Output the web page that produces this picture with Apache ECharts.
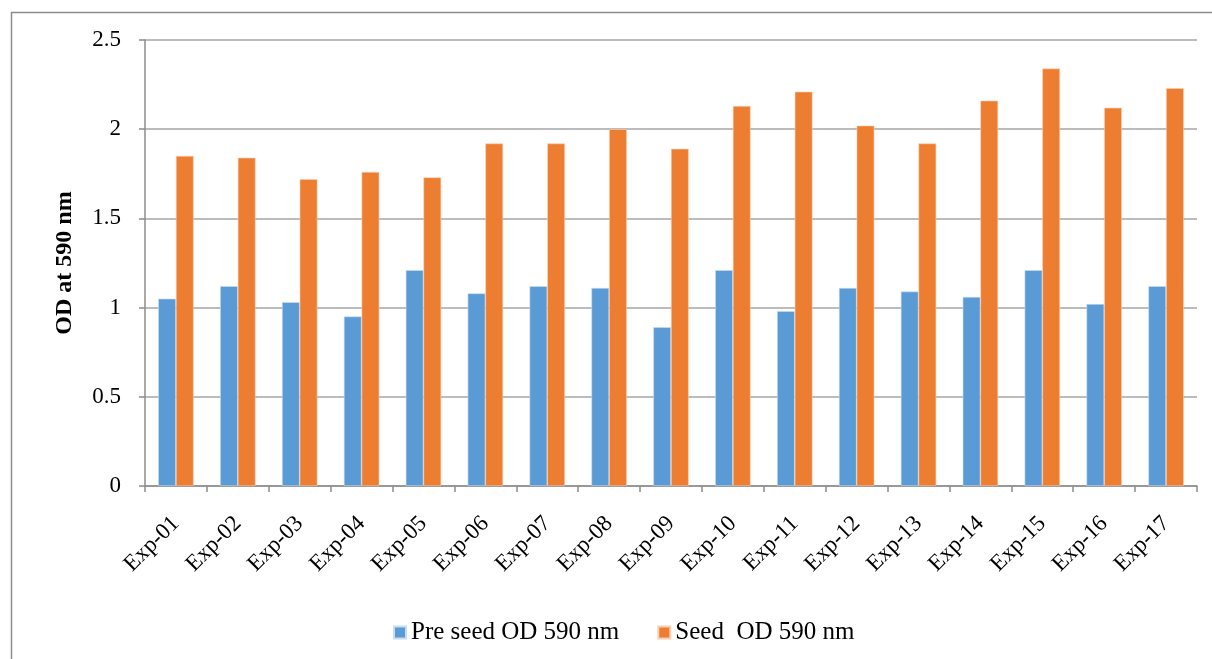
<!DOCTYPE html>
<html>
<head>
<meta charset="utf-8">
<script src="https://cdn.jsdelivr.net/npm/echarts@6/dist/echarts.min.js"></script>
<style>
  html, body { margin: 0; padding: 0; background: #ffffff; }
  #chart { width: 1212px; height: 659px; }
</style>
</head>
<body>
<div id="chart"></div>
<script>
// Experiment labels along the category axis
const categories = ['Exp-01','Exp-02','Exp-03','Exp-04','Exp-05','Exp-06','Exp-07','Exp-08','Exp-09',
                    'Exp-10','Exp-11','Exp-12','Exp-13','Exp-14','Exp-15','Exp-16','Exp-17'];
// Optical density readings at 590 nm
const preSeedOD = [1.05, 1.12, 1.03, 0.95, 1.21, 1.08, 1.12, 1.11, 0.89, 1.21, 0.98, 1.11, 1.09, 1.06, 1.21, 1.02, 1.12];
const seedOD    = [1.85, 1.84, 1.72, 1.76, 1.73, 1.92, 1.92, 2.00, 1.89, 2.13, 2.21, 2.02, 1.92, 2.16, 2.34, 2.12, 2.23];
const seriesNames = ['Pre seed OD 590 nm', 'Seed  OD 590 nm'];

const serif = '"Liberation Serif", "Times New Roman", serif';
const chart = echarts.init(document.getElementById('chart'));

chart.setOption({
  animation: false,
  backgroundColor: '#ffffff',
  textStyle: { fontFamily: serif, color: '#000' },
  graphic: [{
    type: 'rect',
    shape: { x: 11.5, y: 12.5, width: 1240, height: 700 },
    style: { fill: 'none', stroke: '#8c8c8c', lineWidth: 1.5 },
    silent: true
  }],
  grid: { left: 145, right: 15, top: 40, bottom: 173, containLabel: false },
  legend: {
    bottom: 9,
    left: 388,
    itemWidth: 12,
    itemHeight: 12,
    itemGap: 38,
    icon: 'rect',
    textStyle: { fontFamily: serif, fontSize: 25, color: '#000', padding: [3, 0, 0, 0] },
    data: seriesNames
  },
  xAxis: {
    type: 'category',
    data: categories,
    axisLine: { lineStyle: { color: '#8c8c8c', width: 1.5 } },
    axisTick: { show: true, length: 6, lineStyle: { color: '#8c8c8c', width: 1.5 } },
    axisLabel: { rotate: 45, fontFamily: serif, fontSize: 23, color: '#000', margin: 34, interval: 0 }
  },
  yAxis: {
    type: 'value',
    min: 0,
    max: 2.5,
    interval: 0.5,
    name: 'OD at 590 nm',
    nameLocation: 'middle',
    nameGap: 68,
    nameTextStyle: { fontFamily: serif, fontSize: 24, fontWeight: 'bold', color: '#000' },
    axisLine: { show: true, lineStyle: { color: '#8c8c8c', width: 1.5 } },
    axisTick: { show: true, length: 6, lineStyle: { color: '#8c8c8c', width: 1.5 } },
    axisLabel: { fontFamily: serif, fontSize: 23, color: '#000', margin: 24 },
    splitLine: { lineStyle: { color: '#a6a6a6', width: 1.5 } }
  },
  series: [
    {
      name: seriesNames[0],
      type: 'bar',
      data: preSeedOD,
      barWidth: '28.6%',
      barGap: '0%',
      itemStyle: { color: '#5b9bd5', borderColor: '#c9ddf2', borderWidth: 0.6 }
    },
    {
      name: seriesNames[1],
      type: 'bar',
      data: seedOD,
      barWidth: '28.6%',
      itemStyle: { color: '#ed7d31', borderColor: '#f8cfb3', borderWidth: 0.6 }
    }
  ]
});
</script>
</body>
</html>
